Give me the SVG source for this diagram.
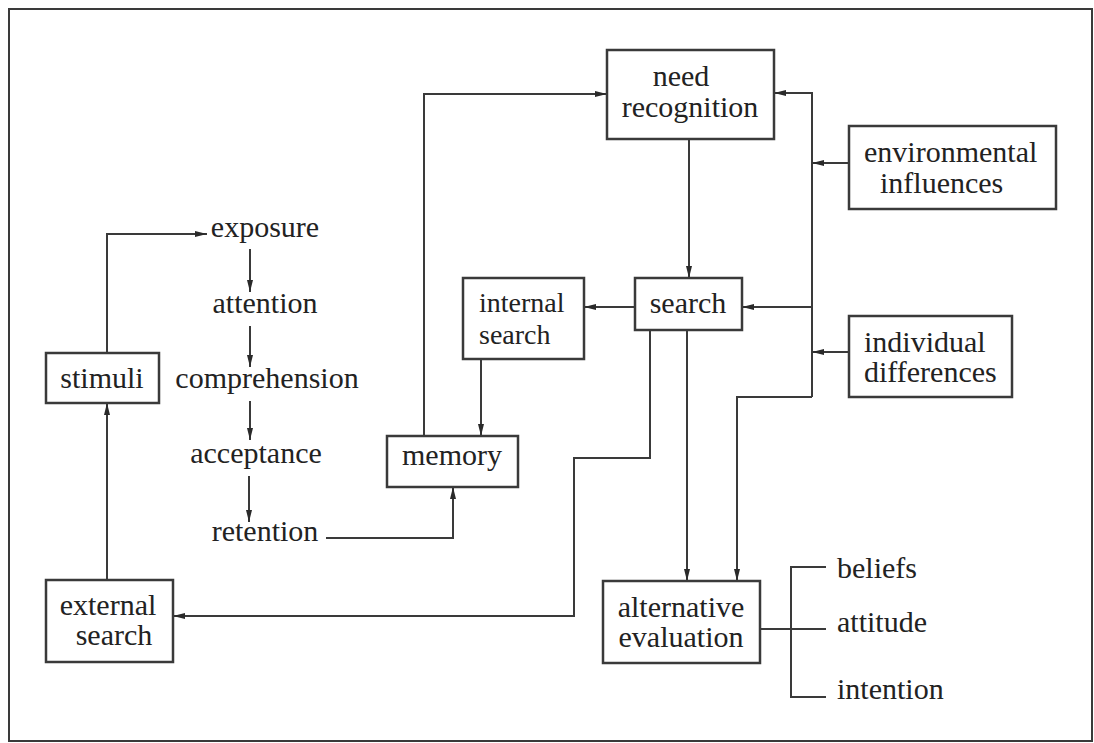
<svg xmlns="http://www.w3.org/2000/svg" width="1094" height="743" viewBox="0 0 1094 743">
<style>
.box{fill:#fff;stroke:#3a3a3a;stroke-width:2.5}
.t{font-family:"Liberation Serif","Times New Roman",serif;font-size:30px;fill:#222}
.s{font-size:28px}
.m{text-anchor:middle}
.c{fill:none;stroke:#3a3a3a;stroke-width:2}
.a{marker-end:url(#arr)}
</style>
<defs>
<marker id="arr" markerUnits="userSpaceOnUse" markerWidth="13" markerHeight="7" refX="12" refY="3.5" orient="auto">
<path d="M0,0.5 L12,3.5 L0,6.5 z" fill="#2a2a2a"/>
</marker>
</defs>
<rect x="0" y="0" width="1094" height="743" fill="#fff"/>
<rect x="9" y="9" width="1083" height="732" fill="none" stroke="#3a3a3a" stroke-width="2"/>
<g id="connectors">
<path class="c a" d="M424,436 V94 H607"/>
<path class="c a" d="M689,139 V278"/>
<path class="c a" d="M635,307 H584"/>
<path class="c a" d="M481,359 V436"/>
<path class="c a" d="M812,397 V93 H774"/>
<path class="c a" d="M849,163 H812"/>
<path class="c a" d="M849,352 H812"/>
<path class="c a" d="M812,307 H742"/>
<path class="c a" d="M812,397 H737 V581"/>
<path class="c a" d="M687,330 V581"/>
<path class="c a" d="M650,330 V458 H574 V616 H173"/>
<path class="c a" d="M107,580 V403"/>
<path class="c a" d="M107,353 V234 H207"/>
<path class="c a" d="M250,249 V292"/>
<path class="c a" d="M250,326 V367"/>
<path class="c a" d="M250,401 V440"/>
<path class="c a" d="M249,476 V522"/>
<path class="c a" d="M326,538 H453 V487"/>
<path class="c" d="M760,629 H826 M826,567 H791 V697 H826"/>
</g>
<g id="need-recognition"><rect class="box" x="607" y="50" width="167" height="89"/><text class="t m" x="681" y="86">need</text><text class="t m" x="690" y="117">recognition</text></g>
<g id="environmental-influences"><rect class="box" x="849" y="126" width="207" height="83"/><text class="t" x="864" y="162">environmental</text><text class="t" x="880" y="193">influences</text></g>
<g id="individual-differences"><rect class="box" x="849" y="316" width="163" height="81"/><text class="t" x="864" y="352">individual</text><text class="t" x="864" y="382">differences</text></g>
<g id="search"><rect class="box" x="635" y="278" width="107" height="52"/><text class="t m" x="688" y="313">search</text></g>
<g id="internal-search"><rect class="box" x="463" y="278" width="121" height="81"/><text class="t s" x="479" y="312">internal</text><text class="t s" x="479" y="344">search</text></g>
<g id="memory"><rect class="box" x="387" y="436" width="131" height="51"/><text class="t m" x="452" y="465">memory</text></g>
<g id="stimuli"><rect class="box" x="46" y="353" width="113" height="50"/><text class="t m" x="102" y="388">stimuli</text></g>
<g id="external-search"><rect class="box" x="46" y="580" width="127" height="82"/><text class="t m" x="108" y="615">external</text><text class="t m" x="114" y="645">search</text></g>
<g id="alternative-evaluation"><rect class="box" x="603" y="581" width="157" height="82"/><text class="t m" x="681" y="617">alternative</text><text class="t m" x="681" y="647">evaluation</text></g>
<g id="exposure"><text class="t m" x="265" y="237">exposure</text></g>
<g id="attention"><text class="t m" x="265" y="313">attention</text></g>
<g id="comprehension"><text class="t m" x="267" y="388">comprehension</text></g>
<g id="acceptance"><text class="t m" x="256" y="463">acceptance</text></g>
<g id="retention"><text class="t m" x="265" y="541">retention</text></g>
<g id="beliefs"><text class="t" x="837" y="578">beliefs</text></g>
<g id="attitude"><text class="t" x="837" y="632">attitude</text></g>
<g id="intention"><text class="t" x="837" y="699">intention</text></g>
</svg>
